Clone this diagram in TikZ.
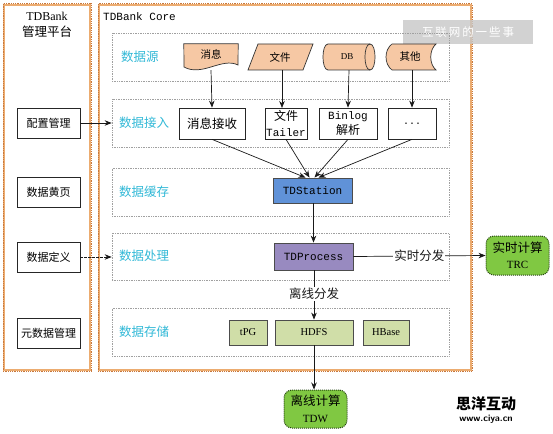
\documentclass[tikz,border=0pt]{standalone}
\usepackage{fontspec}
\setmainfont{Liberation Serif}
\newfontfamily\cjk{Noto Sans CJK SC}
\newfontfamily\mono{Liberation Mono}
\usetikzlibrary{arrows.meta}
\definecolor{panelc}{RGB}{236,172,112}
\definecolor{paneld}{RGB}{200,120,60}
\definecolor{bandc}{RGB}{160,160,160}
\definecolor{rowc}{RGB}{50,185,215}
\definecolor{srcfill}{RGB}{246,200,164}
\definecolor{stfill}{RGB}{96,146,216}
\definecolor{prfill}{RGB}{152,138,192}
\definecolor{stofill}{RGB}{208,222,168}
\definecolor{grfill}{RGB}{128,200,66}
\definecolor{grdraw}{RGB}{40,70,20}
\tikzset{
  panel/.style={draw=panelc, line width=2.2pt, inner sep=0pt},
  paneldot/.style={draw=paneld, line width=0.8pt, densely dotted},
  band/.style={draw=bandc, densely dotted, line width=0.7pt, minimum width=337, inner sep=0pt},
  rowlab/.style={text=rowc, font=\cjk\fontsize{12.5}{14}\selectfont, anchor=west, inner sep=0pt},
  mbox/.style={draw=black!85, line width=0.7pt, minimum width=63, minimum height=30, font=\cjk\fontsize{11}{13}\selectfont, inner sep=0pt},
  wbox/.style={draw=black!85, fill=white, line width=0.7pt, minimum height=31, font=\cjk\fontsize{12}{15.5}\selectfont, inner sep=0pt, align=center},
  srcnode/.style={minimum height=26, inner sep=0pt, font=\cjk\fontsize{10.5}{12}\selectfont},
  srcshape/.style={draw=black!80, fill=srcfill, line width=0.7pt},
  stbox/.style={draw=black!70, line width=0.8pt, inner sep=0pt, font=\mono\fontsize{11}{13}\selectfont},
  grbox/.style={draw=grdraw, fill=grfill, densely dotted, line width=1pt, rounded corners=8pt, minimum width=63, minimum height=39, inner sep=0pt, align=center, font=\cjk\fontsize{12.5}{16.5}\selectfont},
  arr/.style={-{Stealth[length=7pt,width=5.5pt]}, line width=0.7pt, black!90},
  lab/.style={fill=white, inner sep=1pt, font=\cjk\fontsize{12.5}{14}\selectfont}
}
\begin{document}
\begin{tikzpicture}[x=1pt,y=-1pt]
\useasboundingbox[fill=white] (0,0) rectangle (553,433);
% panels
\node[panel, minimum width=86, minimum height=365] (mgmt) at (47,187.5) {};
\node[panel, minimum width=372, minimum height=365] (core) at (285,187.5) {};
\draw[paneldot] (mgmt.north west) rectangle (mgmt.south east);
\draw[paneldot] (core.north west) rectangle (core.south east);
\node[inner sep=0pt, font=\fontsize{12}{14}\selectfont] (mgmtt) at (47,16) {TDBank};
\node[inner sep=0pt, font=\cjk\fontsize{12.5}{14}\selectfont] (mgmtz) at (47,32) {管理平台};
\node[anchor=west, inner sep=0pt, font=\mono\fontsize{11}{13}\selectfont] (coret) at (103,17) {TDBank Core};
% watermark top
\node[fill=black!22, opacity=0.8, text opacity=1, text=white, minimum width=130, minimum height=24, inner sep=0pt, font=\cjk\fontsize{11.5}{13}\selectfont] (wm1) at (468,32) {互\,联\,网\,的\,一\,些\,事};
% bands
\node[band, minimum height=48] (r1) at (280.5,57) {};
\node[band, minimum height=48] (r2) at (280.5,123) {};
\node[band, minimum height=48] (r3) at (280.5,192) {};
\node[band, minimum height=47] (r4) at (280.5,256.5) {};
\node[band, minimum height=48] (r5) at (280.5,332) {};
\node[rowlab] (l1) at (121,57) {数据源};
\node[rowlab] (l2) at (119,123) {数据接入};
\node[rowlab] (l3) at (119,192) {数据缓存};
\node[rowlab] (l4) at (119,256) {数据处理};
\node[rowlab] (l5) at (119,332) {数据存储};
% left boxes
\node[mbox] (cfg) at (48.5,123) {配置管理};
\node[mbox] (yp) at (48.5,192) {数据黄页};
\node[mbox] (def) at (48.5,257) {数据定义};
\node[mbox] (meta) at (48.5,333) {元数据管理};
\draw[arr] (cfg.east) -- (cfg.east -| r2.west);
\draw[arr, dash pattern=on 2.5pt off 1.5pt] (def.east) -- (def.east -| r4.west);
% sources
\node[srcnode, minimum width=54] (msg) at (211,57) {};
\draw[srcshape] (msg.north west) -- (msg.north east) -- (238,65) .. controls (222,57) and (202,77) .. (184,67) -- cycle;
\node[srcnode, font=\cjk\fontsize{10.5}{12}\selectfont] (msgt) at (211,54) {消息};
\node[srcnode, minimum width=65] (file) at (281,57) {};
\draw[srcshape] (258,44) -- (313,44) -- (303,70) -- (248,70) -- cycle;
\node[srcnode] (filet) at (280,57) {文件};
\node[srcnode, minimum width=52] (db) at (349,57) {};
\draw[srcshape] (328,44) -- (370,44) .. controls (376.7,44) and (376.7,70) .. (370,70) -- (328,70) .. controls (321.3,70) and (321.3,44) .. (328,44) -- cycle;
\draw[black!80, line width=0.7pt] (370,44) .. controls (363.3,44) and (363.3,70) .. (370,70);
\node[srcnode, font=\fontsize{9}{11}\selectfont] (dbt) at (347,57) {DB};
\node[srcnode, minimum width=49] (oth) at (411.5,57) {};
\draw[srcshape] (392,44) -- (436,44) .. controls (429,50) and (429,64) .. (436,70) -- (392,70) .. controls (384,64) and (384,50) .. (392,44) -- cycle;
\node[srcnode] (otht) at (410,57) {其他};
% ingestion boxes
\node[wbox, minimum width=66, font=\cjk\fontsize{12.5}{14}\selectfont] (recv) at (212,123.5) {消息接收};
\node[wbox, minimum width=42] (tail) at (286,123.5) {文件\\{\mono\fontsize{11}{15.5}\selectfont Tailer}};
\node[wbox, minimum width=58] (bin) at (348,123.5) {{\mono\fontsize{11}{15.5}\selectfont Binlog}\\解析};
\node[wbox, minimum width=48, font=\mono\fontsize{10}{12}\selectfont] (dots) at (412,123.5) {...};
\draw[arr] (msg.south) -- (recv.north);
\draw[arr] (282,70) -- (282,108);
\draw[arr] (db.south) -- (bin.north);
\draw[arr] (oth.south -| dots.north) -- (dots.north);
% TDStation
\node[stbox, fill=stfill, minimum width=79, minimum height=25] (st) at (312.5,190.5) {TDStation};
\draw[arr] (recv.south) -- ([xshift=-7]st.north);
\draw[arr] (tail.south) -- ([xshift=-3]st.north);
\draw[arr] (bin.south) -- ([xshift=2]st.north);
\draw[arr] (dots.south) -- ([xshift=6]st.north);
% TDProcess
\node[stbox, fill=prfill, minimum width=79, minimum height=27] (pr) at (313.5,256.5) {TDProcess};
\draw[arr] (st.south -| pr.north) -- (pr.north);
% storage
\node[stbox, fill=stofill, minimum width=38, minimum height=25, font=\fontsize{10.5}{12}\selectfont] (tpg) at (248,332.5) {tPG};
\node[stbox, fill=stofill, minimum width=78, minimum height=25, font=\fontsize{10.5}{12}\selectfont] (hdfs) at (314,332.5) {HDFS};
\node[stbox, fill=stofill, minimum width=46, minimum height=25, font=\fontsize{10.5}{12}\selectfont] (hbase) at (386,332.5) {HBase};
% outputs
\node[grbox] (trc) at (517.5,255.5) {实时计算\\{\rmfamily\fontsize{11}{16.5}\selectfont TRC}};
\node[grbox, minimum height=38] (tdw) at (315.5,409) {离线计算\\{\rmfamily\fontsize{11}{16.5}\selectfont TDW}};
\draw[arr] (pr.east) -- node[lab, pos=0.5] (rtl) {实时分发} (trc.west);
\draw[arr] (pr.south -| hdfs.north) -- node[lab, pos=0.48] (offl) {离线分发} (hdfs.north);
\draw[arr] (hdfs.south) -- (hdfs.south |- tdw.north);
% watermark bottom
\node[inner sep=0pt, align=center, font=\cjk\bfseries\fontsize{15}{16}\selectfont] (wm2) at (486,404) {思洋互动};
\node[inner sep=0pt, font=\sffamily\bfseries\fontsize{9.5}{11}\selectfont] (wm3) at (486,419) {www.ciya.cn};
\end{tikzpicture}
\end{document}
